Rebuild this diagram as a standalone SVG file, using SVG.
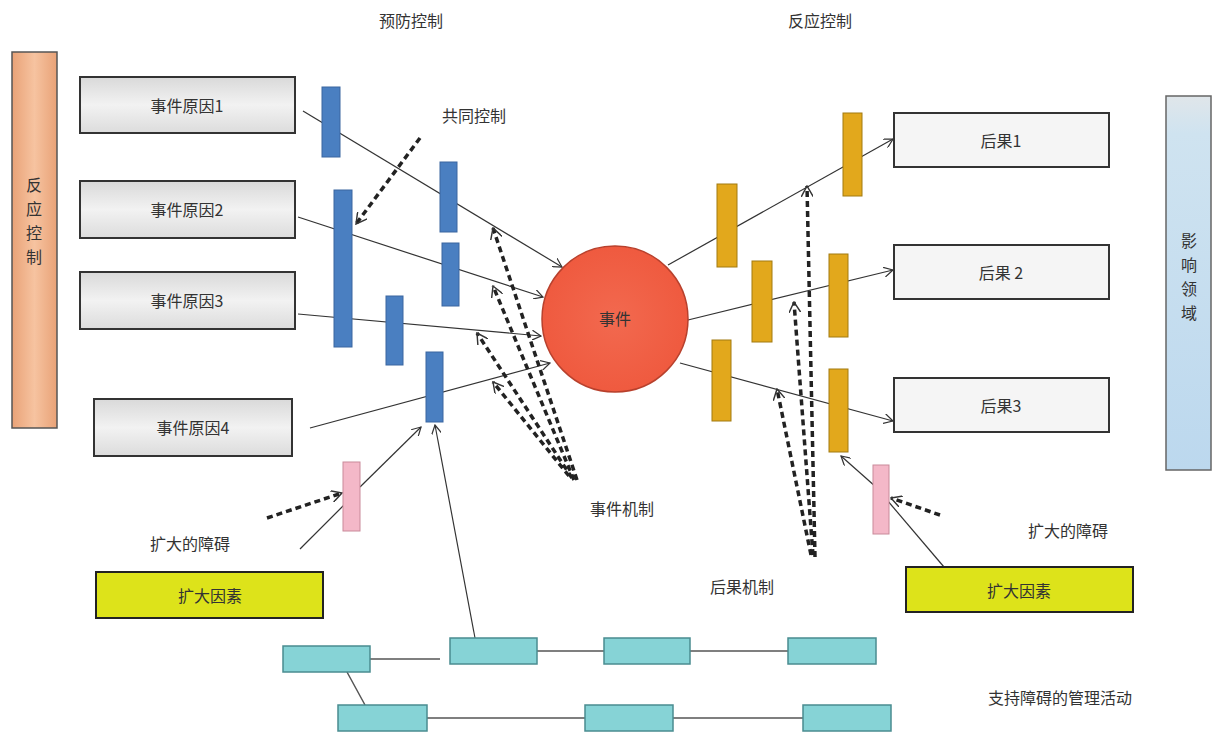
<svg xmlns="http://www.w3.org/2000/svg" width="1214" height="733" viewBox="0 0 1214 733">
<style>
text{font-family:"Noto Sans CJK SC","Liberation Serif",serif;fill:#333;font-size:16px;text-anchor:middle;dominant-baseline:central}
.vt{font-size:16px}
.box{fill:url(#gGray);stroke:#333;stroke-width:2}
.cbox{fill:#f5f5f5;stroke:#333;stroke-width:2}
.blue{fill:#4a7fc1;stroke:#3a66a0;stroke-width:1}
.orange{fill:#e2a81c;stroke:#a27a10;stroke-width:1}
.pink{fill:#f4b8c8;stroke:#c98a9a;stroke-width:1}
.teal{fill:#86d3d6;stroke:#4a8c90;stroke-width:1.5}
.yellow{fill:#dde31a;stroke:#222;stroke-width:2}
.ln{stroke:#333;stroke-width:1.2;fill:none}
.dash{stroke:#222;stroke-width:3.5;stroke-dasharray:6 4;fill:none}
.tl{stroke:#555;stroke-width:1.5;fill:none}
</style>
<defs>
<linearGradient id="gGray" x1="0" y1="0" x2="0" y2="1"><stop offset="0" stop-color="#d9d9d9"/><stop offset="0.5" stop-color="#f2f2f2"/><stop offset="1" stop-color="#dcdcdc"/></linearGradient>
<linearGradient id="gPeach" x1="0" y1="0" x2="1" y2="0"><stop offset="0" stop-color="#e9a277"/><stop offset="0.5" stop-color="#f6c3a0"/><stop offset="1" stop-color="#e9a277"/></linearGradient>
<linearGradient id="gBlue" x1="0" y1="0" x2="0" y2="1"><stop offset="0" stop-color="#e0e6ea"/><stop offset="0.1" stop-color="#cfe3f0"/><stop offset="1" stop-color="#bcd8ee"/></linearGradient>
<radialGradient id="gRed" cx="0.5" cy="0.5" r="0.5"><stop offset="0" stop-color="#f2694f"/><stop offset="1" stop-color="#ef5a3f"/></radialGradient>
<marker id="arr" viewBox="0 0 10 10" refX="9" refY="5" markerWidth="10" markerHeight="10" orient="auto" markerUnits="userSpaceOnUse"><path d="M0,0 L9,5 L0,10" fill="none" stroke="#333" stroke-width="1.2"/></marker>
<marker id="arrD" viewBox="0 0 10 10" refX="9" refY="5" markerWidth="12" markerHeight="12" orient="auto" markerUnits="userSpaceOnUse"><path d="M0,0 L9,5 L0,10" fill="none" stroke="#333" stroke-width="1.2"/></marker>
</defs>
<rect width="1214" height="733" fill="#fff"/>

<g id="labels">
<text x="411" y="20">预防控制</text>
<text x="820" y="20">反应控制</text>
<text x="474" y="115">共同控制</text>
<text x="622" y="508">事件机制</text>
<text x="742" y="586">后果机制</text>
<text x="190" y="543">扩大的障碍</text>
<text x="1068" y="530">扩大的障碍</text>
<text x="1060" y="697">支持障碍的管理活动</text>
</g>

<g id="connectors">
<path class="ln" d="M303,111 L562,267" marker-end="url(#arr)"/>
<path class="ln" d="M298,217 L543,297" marker-end="url(#arr)"/>
<path class="ln" d="M298,314 L541,336" marker-end="url(#arr)"/>
<path class="ln" d="M310,428 L550,363" marker-end="url(#arr)"/>
<path class="ln" d="M668,265 L893,139" marker-end="url(#arr)"/>
<path class="ln" d="M688,320 L893,270" marker-end="url(#arr)"/>
<path class="ln" d="M680,363 L893,421" marker-end="url(#arr)"/>
<path class="dash" d="M420,138 L356,224" marker-end="url(#arrD)"/>
<path class="dash" d="M577,480 L493,228" marker-end="url(#arrD)"/>
<path class="dash" d="M574,480 L493,286" marker-end="url(#arrD)"/>
<path class="dash" d="M572,478 L477,333" marker-end="url(#arrD)"/>
<path class="dash" d="M569,476 L493,382" marker-end="url(#arrD)"/>
<path class="dash" d="M815,557 L807,186" marker-end="url(#arrD)"/>
<path class="dash" d="M813,555 L794,302" marker-end="url(#arrD)"/>
<path class="dash" d="M811,555 L777,389" marker-end="url(#arrD)"/>
<path class="ln" d="M300,549 L346,503"/>
<path class="ln" d="M360,487 L421,427" marker-end="url(#arr)"/>
<path class="dash" d="M267,518 L342,493" marker-end="url(#arrD)"/>
<path class="ln" d="M944,567 L887,500"/>
<path class="ln" d="M876,487 L841,456" marker-end="url(#arr)"/>
<path class="dash" d="M940,515 L891,498" marker-end="url(#arrD)"/>
<path class="ln" d="M475,638 L435,425" marker-end="url(#arr)"/>
<path class="tl" d="M370,659 L440,659 M537,651 L604,651 M690,651 L788,651 M427,718 L585,718 M673,718 L803,718 M347,672 L365,705"/>
</g>

<g id="node-reactive-left"><rect x="12" y="52" width="45" height="376" fill="url(#gPeach)" stroke="#555" stroke-width="1.5"/>
<text class="vt" x="34" y="184">反</text><text class="vt" x="34" y="208">应</text><text class="vt" x="34" y="232">控</text><text class="vt" x="34" y="256">制</text></g>
<g id="node-cause1"><rect class="box" x="80" y="77" width="215" height="56"/><text x="187" y="105">事件原因1</text></g>
<g id="node-cause2"><rect class="box" x="80" y="181" width="215" height="57"/><text x="187" y="209">事件原因2</text></g>
<g id="node-cause3"><rect class="box" x="80" y="272" width="215" height="57"/><text x="187" y="300">事件原因3</text></g>
<g id="node-cause4"><rect class="box" x="94" y="399" width="198" height="57"/><text x="193" y="427">事件原因4</text></g>

<g id="node-blue-bars">
<rect class="blue" x="322" y="87" width="18" height="70"/>
<rect class="blue" x="334" y="190" width="18" height="157"/>
<rect class="blue" x="440" y="162" width="17" height="70"/>
<rect class="blue" x="442" y="243" width="17" height="63"/>
<rect class="blue" x="386" y="296" width="17" height="69"/>
<rect class="blue" x="426" y="352" width="17" height="70"/>
</g>
<g id="node-pink-bars">
<rect class="pink" x="343" y="462" width="17" height="69"/>
<rect class="pink" x="873" y="465" width="16" height="69"/>
</g>

<g id="node-event"><circle cx="615" cy="319" r="73" fill="url(#gRed)" stroke="#b8402c" stroke-width="1.5"/><text x="615" y="318" font-size="12">事件</text></g>

<g id="node-orange-bars">
<rect class="orange" x="717" y="184" width="20" height="83"/>
<rect class="orange" x="843" y="113" width="19" height="83"/>
<rect class="orange" x="752" y="261" width="20" height="81"/>
<rect class="orange" x="829" y="254" width="19" height="83"/>
<rect class="orange" x="712" y="340" width="19" height="81"/>
<rect class="orange" x="829" y="369" width="19" height="83"/>
</g>

<g id="node-cons1"><rect class="cbox" x="894" y="113" width="215" height="54"/><text x="1001" y="140">后果1</text></g>
<g id="node-cons2"><rect class="cbox" x="894" y="245" width="215" height="54"/><text x="1001" y="272">后果 2</text></g>
<g id="node-cons3"><rect class="cbox" x="894" y="378" width="215" height="54"/><text x="1001" y="405">后果3</text></g>

<g id="node-impact"><rect x="1166" y="96" width="45" height="374" fill="url(#gBlue)" stroke="#666" stroke-width="1.5"/>
<text class="vt" x="1189" y="240">影</text><text class="vt" x="1189" y="264">响</text><text class="vt" x="1189" y="288">领</text><text class="vt" x="1189" y="312">域</text></g>

<g id="node-escalation-left"><rect class="yellow" x="96" y="572" width="227" height="46"/><text x="210" y="595">扩大因素</text></g>
<g id="node-escalation-right"><rect class="yellow" x="906" y="567" width="227" height="45"/><text x="1019" y="590">扩大因素</text></g>

<g id="node-mgmt">
<rect class="teal" x="283" y="646" width="87" height="26"/>
<rect class="teal" x="450" y="638" width="87" height="26"/>
<rect class="teal" x="604" y="638" width="86" height="26"/>
<rect class="teal" x="788" y="638" width="88" height="26"/>
<rect class="teal" x="338" y="705" width="89" height="26"/>
<rect class="teal" x="585" y="705" width="88" height="26"/>
<rect class="teal" x="803" y="705" width="88" height="26"/>
</g>
</svg>
